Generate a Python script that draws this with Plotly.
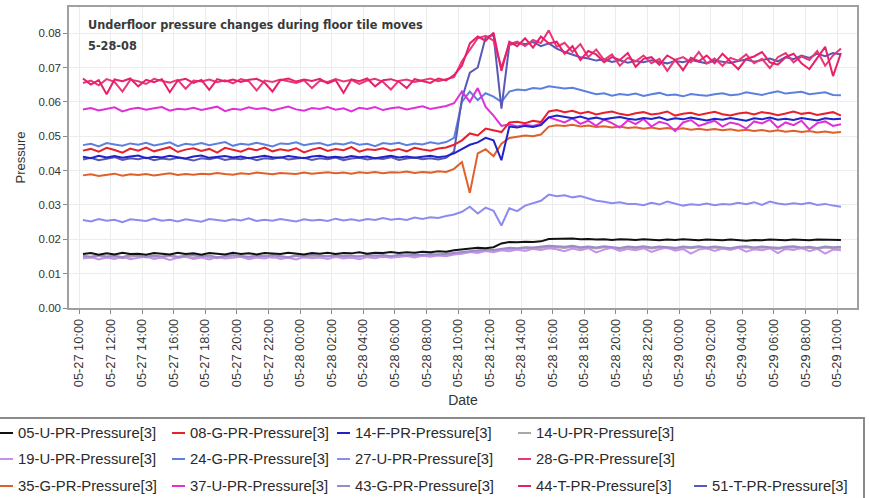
import pandas as pd
import plotly.graph_objects as go

START = "2008-05-27 10:15"
STEP = "30min"

names = ["05-U-PR-Pressure[3]", "08-G-PR-Pressure[3]", "14-F-PR-Pressure[3]", "14-U-PR-Pressure[3]",
         "19-U-PR-Pressure[3]", "24-G-PR-Pressure[3]", "27-U-PR-Pressure[3]", "28-G-PR-Pressure[3]",
         "35-G-PR-Pressure[3]", "37-U-PR-Pressure[3]", "43-G-PR-Pressure[3]", "44-T-PR-Pressure[3]",
         "51-T-PR-Pressure[3]"]
colors = ["#111111", "#e8202a", "#2222c8", "#a8a8a8",
          "#c890e8", "#5b80e0", "#8c8cf0", "#e83878",
          "#e0602a", "#e030d8", "#9a8cc8", "#e8206a",
          "#5858b8"]

s05U = [0.0157, 0.0160, 0.0155, 0.0159, 0.0156, 0.0161, 0.0157, 0.0158, 0.0155, 0.0160,
        0.0158, 0.0156, 0.0161, 0.0157, 0.0159, 0.0155, 0.0160, 0.0158, 0.0156, 0.0161,
        0.0157, 0.0159, 0.0156, 0.0160, 0.0158, 0.0157, 0.0161, 0.0159, 0.0156, 0.0160,
        0.0158, 0.0161, 0.0157, 0.0160, 0.0159, 0.0162, 0.0158, 0.0161, 0.0160, 0.0163,
        0.0160, 0.0162, 0.0161, 0.0164, 0.0162, 0.0165, 0.0164, 0.0168, 0.0170, 0.0173,
        0.0175, 0.0174, 0.0177, 0.0188, 0.0192, 0.0191, 0.0193, 0.0192, 0.0194, 0.0201,
        0.0202, 0.0201, 0.0202, 0.0200, 0.0201, 0.0199, 0.0200, 0.0198, 0.0200, 0.0199,
        0.0198, 0.0200, 0.0199, 0.0197, 0.0199, 0.0198, 0.0200, 0.0198, 0.0197, 0.0199,
        0.0198, 0.0197, 0.0199, 0.0198, 0.0196, 0.0198, 0.0197, 0.0199, 0.0198, 0.0197,
        0.0199, 0.0198, 0.0197, 0.0199, 0.0198, 0.0197, 0.0198]
s08G = [0.0458, 0.0463, 0.0455, 0.0466, 0.0460, 0.0452, 0.0464, 0.0458, 0.0467, 0.0456,
        0.0462, 0.0468, 0.0454, 0.0461, 0.0465, 0.0457, 0.0463, 0.0452, 0.0466, 0.0460,
        0.0455, 0.0464, 0.0459, 0.0467, 0.0456, 0.0462, 0.0458, 0.0465, 0.0453, 0.0461,
        0.0466, 0.0457, 0.0463, 0.0459, 0.0468, 0.0455, 0.0462, 0.0460, 0.0465, 0.0458,
        0.0463, 0.0456, 0.0466, 0.0461, 0.0458, 0.0464, 0.0467, 0.0475, 0.0488, 0.0508,
        0.0502, 0.0522, 0.0516, 0.0512, 0.0540, 0.0542, 0.0538, 0.0545, 0.0541, 0.0572,
        0.0576, 0.0570, 0.0574, 0.0566, 0.0571, 0.0563, 0.0568, 0.0572, 0.0565, 0.0561,
        0.0567, 0.0570, 0.0563, 0.0566, 0.0572, 0.0560, 0.0565, 0.0568, 0.0562, 0.0567,
        0.0571, 0.0564, 0.0560, 0.0566, 0.0569, 0.0563, 0.0570, 0.0567, 0.0561, 0.0566,
        0.0572, 0.0565, 0.0568, 0.0562, 0.0566, 0.0570, 0.0560]
s14F = [0.0440, 0.0436, 0.0443, 0.0438, 0.0442, 0.0437, 0.0441, 0.0444, 0.0436, 0.0440,
        0.0438, 0.0443, 0.0439, 0.0435, 0.0441, 0.0444, 0.0437, 0.0440, 0.0442, 0.0438,
        0.0441, 0.0436, 0.0440, 0.0443, 0.0439, 0.0437, 0.0442, 0.0440, 0.0436, 0.0441,
        0.0443, 0.0438, 0.0440, 0.0437, 0.0442, 0.0439, 0.0441, 0.0436, 0.0440, 0.0443,
        0.0438, 0.0441, 0.0437, 0.0440, 0.0443, 0.0439, 0.0442, 0.0450, 0.0462, 0.0475,
        0.0482, 0.0495, 0.0488, 0.0430, 0.0528, 0.0525, 0.0530, 0.0527, 0.0532, 0.0555,
        0.0560, 0.0556, 0.0552, 0.0557, 0.0550, 0.0554, 0.0549, 0.0553, 0.0556, 0.0551,
        0.0548, 0.0553, 0.0550, 0.0555, 0.0547, 0.0552, 0.0549, 0.0554, 0.0550, 0.0546,
        0.0551, 0.0548, 0.0553, 0.0550, 0.0545, 0.0552, 0.0549, 0.0554, 0.0548, 0.0551,
        0.0547, 0.0553, 0.0550, 0.0546, 0.0552, 0.0549, 0.0551]
s14U = [0.0149, 0.0146, 0.0151, 0.0147, 0.0150, 0.0145, 0.0149, 0.0152, 0.0147, 0.0150,
        0.0148, 0.0151, 0.0146, 0.0150, 0.0147, 0.0152, 0.0148, 0.0145, 0.0150, 0.0148,
        0.0151, 0.0147, 0.0149, 0.0152, 0.0146, 0.0150, 0.0148, 0.0151, 0.0147, 0.0150,
        0.0149, 0.0152, 0.0148, 0.0150, 0.0146, 0.0151, 0.0149, 0.0153, 0.0148, 0.0151,
        0.0150, 0.0153, 0.0151, 0.0155, 0.0152, 0.0156, 0.0155, 0.0158, 0.0161, 0.0164,
        0.0165, 0.0168, 0.0166, 0.0170, 0.0172, 0.0171, 0.0174, 0.0172, 0.0175, 0.0178,
        0.0177, 0.0175, 0.0178, 0.0174, 0.0176, 0.0173, 0.0177, 0.0175, 0.0172, 0.0176,
        0.0174, 0.0177, 0.0173, 0.0176, 0.0175, 0.0172, 0.0176, 0.0174, 0.0177, 0.0173,
        0.0176, 0.0174, 0.0171, 0.0175, 0.0177, 0.0173, 0.0176, 0.0174, 0.0172, 0.0175,
        0.0177, 0.0173, 0.0175, 0.0172, 0.0176, 0.0174, 0.0175]
s19U = [0.0144, 0.0148, 0.0141, 0.0147, 0.0143, 0.0149, 0.0142, 0.0146, 0.0150, 0.0143,
        0.0147, 0.0140, 0.0146, 0.0149, 0.0143, 0.0147, 0.0141, 0.0148, 0.0144, 0.0146,
        0.0149, 0.0142, 0.0147, 0.0144, 0.0150, 0.0143, 0.0146, 0.0141, 0.0148, 0.0145,
        0.0147, 0.0143, 0.0149, 0.0144, 0.0147, 0.0142, 0.0148, 0.0145, 0.0150, 0.0146,
        0.0148, 0.0151, 0.0147, 0.0152, 0.0149, 0.0153, 0.0151, 0.0156, 0.0158, 0.0163,
        0.0160, 0.0166, 0.0162, 0.0168, 0.0165, 0.0170, 0.0166, 0.0172, 0.0169, 0.0174,
        0.0171, 0.0165, 0.0173, 0.0168, 0.0174, 0.0162, 0.0170, 0.0175, 0.0166, 0.0172,
        0.0168, 0.0174, 0.0163, 0.0171, 0.0176, 0.0167, 0.0172, 0.0158, 0.0170, 0.0174,
        0.0166, 0.0173, 0.0169, 0.0175, 0.0164, 0.0171, 0.0168, 0.0174, 0.0160, 0.0172,
        0.0169, 0.0175, 0.0165, 0.0172, 0.0158, 0.0170, 0.0168]
s24G = [0.0474, 0.0478, 0.0470, 0.0480, 0.0476, 0.0472, 0.0479, 0.0475, 0.0481, 0.0473,
        0.0477, 0.0482, 0.0471, 0.0478, 0.0475, 0.0480, 0.0474, 0.0479, 0.0483, 0.0472,
        0.0478, 0.0475, 0.0481, 0.0476, 0.0470, 0.0479, 0.0477, 0.0482, 0.0474, 0.0478,
        0.0480, 0.0473, 0.0479, 0.0476, 0.0482, 0.0475, 0.0478, 0.0471, 0.0480, 0.0477,
        0.0481, 0.0474, 0.0479, 0.0476, 0.0482, 0.0478, 0.0483, 0.0495, 0.0600, 0.0630,
        0.0605, 0.0625, 0.0615, 0.0600, 0.0630, 0.0636, 0.0634, 0.0640, 0.0638, 0.0645,
        0.0642, 0.0639, 0.0641, 0.0635, 0.0628, 0.0622, 0.0625, 0.0618, 0.0623, 0.0620,
        0.0624, 0.0617, 0.0622, 0.0626, 0.0619, 0.0621, 0.0616, 0.0623, 0.0620, 0.0618,
        0.0622, 0.0625, 0.0619, 0.0621, 0.0628, 0.0623, 0.0620, 0.0626, 0.0631, 0.0624,
        0.0627, 0.0629, 0.0622, 0.0625, 0.0628, 0.0620, 0.0619]
s27U = [0.0256, 0.0252, 0.0259, 0.0254, 0.0257, 0.0250, 0.0258, 0.0255, 0.0253, 0.0260,
        0.0254, 0.0257, 0.0252, 0.0258, 0.0255, 0.0251, 0.0259, 0.0256, 0.0253, 0.0258,
        0.0255, 0.0261, 0.0253, 0.0257, 0.0254, 0.0259, 0.0256, 0.0252, 0.0258, 0.0255,
        0.0257, 0.0253, 0.0260, 0.0255, 0.0258, 0.0254, 0.0259, 0.0256, 0.0262, 0.0257,
        0.0260, 0.0256, 0.0263, 0.0259, 0.0264, 0.0262, 0.0268, 0.0272, 0.0280, 0.0295,
        0.0275, 0.0292, 0.0283, 0.0240, 0.0290, 0.0282, 0.0298, 0.0305, 0.0312, 0.0330,
        0.0325, 0.0328, 0.0322, 0.0326, 0.0318, 0.0312, 0.0309, 0.0305, 0.0308, 0.0303,
        0.0303, 0.0299, 0.0306, 0.0301, 0.0310, 0.0304, 0.0298, 0.0302, 0.0300, 0.0304,
        0.0299, 0.0303, 0.0301, 0.0306, 0.0302, 0.0308, 0.0300, 0.0310, 0.0304, 0.0301,
        0.0305, 0.0302, 0.0306, 0.0300, 0.0303, 0.0298, 0.0295]
s28G = [0.0655, 0.0662, 0.0648, 0.0666, 0.0658, 0.0630, 0.0664, 0.0660, 0.0652, 0.0667,
        0.0661, 0.0656, 0.0664, 0.0638, 0.0662, 0.0659, 0.0665, 0.0657, 0.0663, 0.0654,
        0.0666, 0.0660, 0.0633, 0.0662, 0.0658, 0.0665, 0.0660, 0.0655, 0.0663, 0.0640,
        0.0661, 0.0658, 0.0666, 0.0659, 0.0664, 0.0652, 0.0662, 0.0667, 0.0658, 0.0636,
        0.0661, 0.0665, 0.0658, 0.0663, 0.0668, 0.0660, 0.0665, 0.0672, 0.0718, 0.0752,
        0.0785, 0.0792, 0.0778, 0.0700, 0.0768, 0.0775, 0.0762, 0.0780, 0.0771, 0.0808,
        0.0760, 0.0772, 0.0745, 0.0768, 0.0730, 0.0752, 0.0722, 0.0738, 0.0705, 0.0728,
        0.0718, 0.0735, 0.0712, 0.0725, 0.0690, 0.0722, 0.0730, 0.0715, 0.0745, 0.0712,
        0.0726, 0.0705, 0.0728, 0.0720, 0.0738, 0.0712, 0.0725, 0.0698, 0.0730, 0.0742,
        0.0715, 0.0732, 0.0722, 0.0748, 0.0705, 0.0735, 0.0755]
s35G = [0.0386, 0.0389, 0.0384, 0.0388, 0.0391, 0.0385, 0.0389, 0.0387, 0.0390, 0.0386,
        0.0389, 0.0392, 0.0387, 0.0390, 0.0388, 0.0391, 0.0389, 0.0393, 0.0390, 0.0388,
        0.0392, 0.0390, 0.0394, 0.0391, 0.0389, 0.0393, 0.0392, 0.0390, 0.0394, 0.0391,
        0.0393, 0.0395, 0.0392, 0.0394, 0.0391, 0.0395, 0.0393, 0.0396, 0.0392, 0.0395,
        0.0394, 0.0397, 0.0393, 0.0396, 0.0394, 0.0398, 0.0396, 0.0405, 0.0425, 0.0335,
        0.0450, 0.0462, 0.0442, 0.0478, 0.0495, 0.0498, 0.0502, 0.0500, 0.0505, 0.0528,
        0.0532, 0.0530, 0.0533, 0.0528, 0.0531, 0.0527, 0.0529, 0.0525, 0.0528, 0.0524,
        0.0526, 0.0522, 0.0525, 0.0521, 0.0524, 0.0520, 0.0523, 0.0519, 0.0522, 0.0518,
        0.0521, 0.0517, 0.0520, 0.0516, 0.0519, 0.0515, 0.0518, 0.0514, 0.0517, 0.0513,
        0.0516, 0.0512, 0.0515, 0.0511, 0.0514, 0.0510, 0.0512]
s37U = [0.0578, 0.0582, 0.0575, 0.0580, 0.0584, 0.0572, 0.0579, 0.0583, 0.0577, 0.0581,
        0.0585, 0.0574, 0.0580, 0.0578, 0.0583, 0.0576, 0.0581, 0.0586, 0.0573, 0.0580,
        0.0577, 0.0584, 0.0579, 0.0582, 0.0575, 0.0580, 0.0586, 0.0578, 0.0574, 0.0582,
        0.0579, 0.0585, 0.0577, 0.0581, 0.0572, 0.0583, 0.0579, 0.0585, 0.0576, 0.0581,
        0.0584, 0.0578, 0.0582, 0.0587, 0.0579, 0.0584, 0.0588, 0.0596, 0.0630, 0.0600,
        0.0640, 0.0585, 0.0560, 0.0530, 0.0535, 0.0528, 0.0533, 0.0530, 0.0536, 0.0555,
        0.0548, 0.0540, 0.0552, 0.0536, 0.0545, 0.0530, 0.0548, 0.0538, 0.0525, 0.0546,
        0.0535, 0.0550, 0.0528, 0.0542, 0.0536, 0.0515, 0.0540, 0.0547, 0.0530, 0.0538,
        0.0545, 0.0528, 0.0540, 0.0535, 0.0522, 0.0543, 0.0537, 0.0548, 0.0525, 0.0540,
        0.0532, 0.0545, 0.0520, 0.0538, 0.0543, 0.0530, 0.0535]
s43G = [0.0152, 0.0149, 0.0154, 0.0150, 0.0153, 0.0148, 0.0155, 0.0151, 0.0149, 0.0153,
        0.0150, 0.0154, 0.0149, 0.0152, 0.0155, 0.0150, 0.0153, 0.0148, 0.0152, 0.0154,
        0.0151, 0.0149, 0.0153, 0.0150, 0.0154, 0.0152, 0.0148, 0.0153, 0.0151, 0.0155,
        0.0152, 0.0150, 0.0154, 0.0151, 0.0153, 0.0149, 0.0155, 0.0152, 0.0154, 0.0151,
        0.0155, 0.0153, 0.0156, 0.0154, 0.0157, 0.0156, 0.0158, 0.0160, 0.0163, 0.0166,
        0.0168, 0.0170, 0.0169, 0.0173, 0.0175, 0.0174, 0.0177, 0.0176, 0.0178, 0.0181,
        0.0180, 0.0178, 0.0181, 0.0177, 0.0179, 0.0176, 0.0180, 0.0178, 0.0175, 0.0179,
        0.0177, 0.0180, 0.0176, 0.0179, 0.0178, 0.0175, 0.0179, 0.0177, 0.0180, 0.0176,
        0.0179, 0.0177, 0.0174, 0.0178, 0.0180, 0.0176, 0.0179, 0.0177, 0.0175, 0.0178,
        0.0180, 0.0176, 0.0178, 0.0175, 0.0179, 0.0177, 0.0178]
s44T = [0.0668, 0.0650, 0.0663, 0.0622, 0.0665, 0.0660, 0.0668, 0.0645, 0.0664, 0.0657,
        0.0666, 0.0628, 0.0662, 0.0667, 0.0655, 0.0664, 0.0635, 0.0666, 0.0659, 0.0665,
        0.0658, 0.0664, 0.0667, 0.0656, 0.0630, 0.0663, 0.0668, 0.0659, 0.0665, 0.0661,
        0.0667, 0.0654, 0.0663, 0.0626, 0.0665, 0.0660, 0.0668, 0.0645, 0.0663, 0.0666,
        0.0659, 0.0640, 0.0666, 0.0661, 0.0655, 0.0668, 0.0662, 0.0678, 0.0705, 0.0770,
        0.0790, 0.0778, 0.0801, 0.0690, 0.0775, 0.0762, 0.0785, 0.0758, 0.0790, 0.0770,
        0.0775, 0.0740, 0.0762, 0.0722, 0.0748, 0.0738, 0.0715, 0.0730, 0.0722, 0.0742,
        0.0702, 0.0725, 0.0730, 0.0708, 0.0735, 0.0722, 0.0692, 0.0728, 0.0718, 0.0735,
        0.0712, 0.0740, 0.0718, 0.0695, 0.0725, 0.0732, 0.0745, 0.0715, 0.0708, 0.0730,
        0.0740, 0.0712, 0.0695, 0.0728, 0.0760, 0.0675, 0.0742]
s51T = [0.0432, 0.0437, 0.0430, 0.0435, 0.0439, 0.0431, 0.0436, 0.0433, 0.0438, 0.0430,
        0.0435, 0.0432, 0.0437, 0.0434, 0.0429, 0.0436, 0.0433, 0.0438, 0.0431, 0.0435,
        0.0433, 0.0437, 0.0430, 0.0436, 0.0434, 0.0439, 0.0432, 0.0435, 0.0437, 0.0431,
        0.0436, 0.0433, 0.0438, 0.0430, 0.0435, 0.0437, 0.0432, 0.0436, 0.0434, 0.0439,
        0.0431, 0.0435, 0.0438, 0.0433, 0.0436, 0.0432, 0.0437, 0.0455, 0.0610, 0.0685,
        0.0700, 0.0788, 0.0795, 0.0580, 0.0765, 0.0772, 0.0768, 0.0774, 0.0762, 0.0770,
        0.0755, 0.0745, 0.0738, 0.0730, 0.0726, 0.0720, 0.0724, 0.0716, 0.0721, 0.0714,
        0.0719, 0.0715, 0.0721, 0.0716, 0.0712, 0.0719, 0.0715, 0.0722, 0.0717, 0.0712,
        0.0720, 0.0716, 0.0713, 0.0719, 0.0723, 0.0717, 0.0721, 0.0726, 0.0718, 0.0730,
        0.0724, 0.0735, 0.0728, 0.0740, 0.0733, 0.0742, 0.0738]

series = [s05U, s08G, s14F, s14U, s19U, s24G, s27U, s28G, s35G, s37U, s43G, s44T, s51T]
# drawing order (index into names), back to front
draw_order = [3, 4, 10, 0, 6, 8, 5, 12, 9, 2, 1, 7, 11]

x_ticks = pd.date_range("2008-05-27 10:00", "2008-05-29 10:00", freq="2h")
y_ticks = [0.00, 0.01, 0.02, 0.03, 0.04, 0.05, 0.06, 0.07, 0.08]

W, H = 869, 498
L, R, T, B = 69, 12, 7, 190
PW, PH = W - L - R, H - T - B


def px(xp):
    return (xp - L) / PW


def py(yp):
    return (H - B - yp) / PH


fig = go.Figure()
for k in draw_order:
    vals = series[k]
    t = pd.date_range(START, periods=len(vals), freq=STEP)
    fig.add_trace(go.Scatter(x=t, y=vals, mode="lines", name=names[k],
                             line=dict(color=colors[k], width=2), showlegend=False))

# manual legend (boxed, cut at left like the reference)
col_x = [0, 172, 337, 518, 694]
row_y = [433, 459, 486]
shapes = [dict(type="rect", xref="paper", yref="paper", x0=px(-5), x1=px(864), y0=py(505), y1=py(418),
               line=dict(color="#8a8a8a", width=2), fillcolor="rgba(0,0,0,0)", layer="above")]
annotations = []
for i, (nm, c) in enumerate(zip(names, colors)):
    r = min(i // 4, 2)
    cidx = i - 4 * r
    x0 = col_x[cidx]
    y0 = row_y[r]
    shapes.append(dict(type="line", xref="paper", yref="paper", x0=px(x0), x1=px(x0 + 13),
                       y0=py(y0), y1=py(y0), line=dict(color=c, width=2)))
    annotations.append(dict(xref="paper", yref="paper", x=px(x0 + 16), y=py(y0), text=nm,
                            showarrow=False, xanchor="left", yanchor="middle",
                            font=dict(family="Liberation Sans, Arial, sans-serif", size=14.8, color="#2a2a2a")))

title_font = dict(family="DejaVu Sans Condensed, sans-serif", size=12.6, color="#3a3a3a")
annotations.append(dict(xref="paper", yref="paper", x=px(86), y=py(24), text="<b>Underfloor pressure changes during floor tile moves</b>",
                        showarrow=False, xanchor="left", yanchor="middle", font=title_font))
annotations.append(dict(xref="paper", yref="paper", x=px(86), y=py(45), text="<b>5-28-08</b>",
                        showarrow=False, xanchor="left", yanchor="middle", font=title_font))

fig.update_layout(
    width=W, height=H,
    margin=dict(l=L, r=R, t=T, b=B, pad=0),
    paper_bgcolor="white", plot_bgcolor="white",
    showlegend=False,
    font=dict(family="Liberation Sans, Arial, sans-serif", color="#333333"),
    shapes=shapes,
    annotations=annotations,
    xaxis=dict(
        type="date",
        range=["2008-05-27 09:22", "2008-05-29 11:16"],
        tickvals=x_ticks, tickformat="%m-%d %H:%M", tickangle=-90,
        tickfont=dict(size=12.8, color="#333333"),
        ticks="outside", ticklen=4, tickcolor="#888888",
        showgrid=True, gridcolor="#ececec", gridwidth=1,
        showline=True, mirror=True, linecolor="#a0a0a0", linewidth=1.5,
        zeroline=False,
        title=dict(text="Date", font=dict(size=14, color="#333333"), standoff=9),
        automargin=False,
    ),
    yaxis=dict(
        range=[0, 0.0876],
        tickvals=y_ticks, tickformat=".2f",
        tickfont=dict(size=11.5, color="#333333"),
        ticks="outside", ticklen=4, tickcolor="#888888",
        showgrid=True, gridcolor="#ececec", gridwidth=1,
        showline=True, mirror=True, linecolor="#a0a0a0", linewidth=1.5,
        zeroline=False,
        title=dict(text="Pressure", font=dict(size=13, color="#333333"), standoff=10),
        automargin=False,
    ),
)

fig.write_html("out.html")
